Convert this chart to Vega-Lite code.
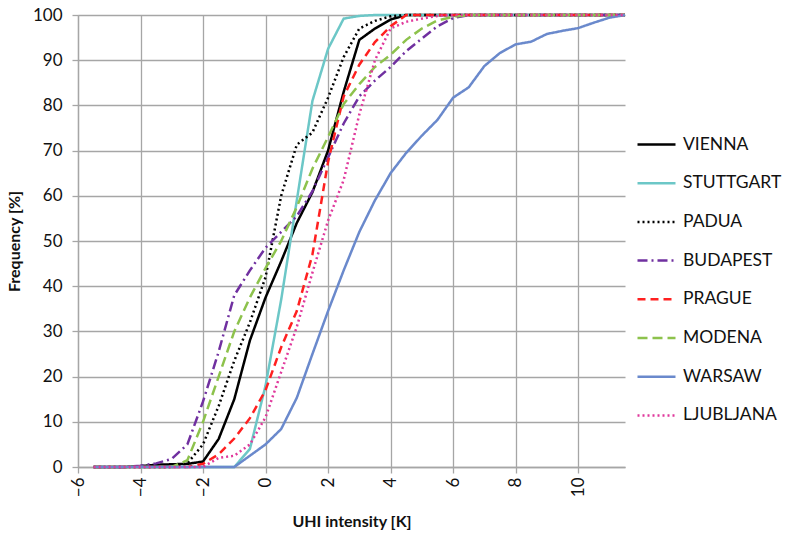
{
  "$schema": "https://vega.github.io/schema/vega-lite/v6.json",
  "autosize": {"type": "none"},
  "padding": {"left": 78, "top": 15, "right": 161, "bottom": 73},
  "width": 547,
  "height": 452,
  "background": "white",
  "config": {
    "view": {"stroke": null},
    "font": "Lato",
    "axis": {
      "labelFont": "Lato", "titleFont": "Lato", "labelFontSize": 17, "titleFontSize": 16,
      "labelColor": "#111", "titleColor": "#111", "titleFontWeight": "bold",
      "gridColor": "#A6A6A6", "gridWidth": 1.3, "gridOpacity": 1,
      "domainColor": "#A6A6A6", "domainWidth": 1.3, "tickColor": "#A6A6A6", "tickWidth": 1.3, "tickSize": 6
    },
    "legend": {"labelFont": "Lato", "labelFontSize": 17.5, "labelColor": "#111"}
  },
  "data": {"values": [
    {"c":"VIENNA","x":-5.5,"y":0},{"c":"VIENNA","x":-4.5,"y":0},{"c":"VIENNA","x":-4,"y":0.2},{"c":"VIENNA","x":-3.5,"y":0.5},{"c":"VIENNA","x":-3,"y":0.6},{"c":"VIENNA","x":-2.5,"y":0.7},{"c":"VIENNA","x":-2,"y":1.2},{"c":"VIENNA","x":-1.5,"y":6.2},{"c":"VIENNA","x":-1,"y":15},{"c":"VIENNA","x":-0.5,"y":28},{"c":"VIENNA","x":0,"y":37.5},{"c":"VIENNA","x":0.5,"y":45.5},{"c":"VIENNA","x":1,"y":54},{"c":"VIENNA","x":1.5,"y":60.8},{"c":"VIENNA","x":2,"y":70},{"c":"VIENNA","x":2.5,"y":83},{"c":"VIENNA","x":3,"y":94.5},{"c":"VIENNA","x":3.5,"y":97},{"c":"VIENNA","x":4,"y":99},{"c":"VIENNA","x":4.5,"y":100},{"c":"VIENNA","x":11.5,"y":100},
    {"c":"STUTTGART","x":-5.5,"y":0},{"c":"STUTTGART","x":-1,"y":0},{"c":"STUTTGART","x":-0.5,"y":4},{"c":"STUTTGART","x":0,"y":18},{"c":"STUTTGART","x":0.5,"y":37},{"c":"STUTTGART","x":1,"y":59},{"c":"STUTTGART","x":1.5,"y":81},{"c":"STUTTGART","x":2,"y":92.5},{"c":"STUTTGART","x":2.5,"y":99.2},{"c":"STUTTGART","x":3,"y":99.8},{"c":"STUTTGART","x":3.5,"y":100},{"c":"STUTTGART","x":11.5,"y":100},
    {"c":"PADUA","x":-5.5,"y":0},{"c":"PADUA","x":-3,"y":0},{"c":"PADUA","x":-2.5,"y":0.8},{"c":"PADUA","x":-2,"y":5},{"c":"PADUA","x":-1.5,"y":13.5},{"c":"PADUA","x":-1,"y":23.5},{"c":"PADUA","x":-0.5,"y":32},{"c":"PADUA","x":0,"y":42},{"c":"PADUA","x":0.5,"y":60},{"c":"PADUA","x":1,"y":71.3},{"c":"PADUA","x":1.5,"y":74},{"c":"PADUA","x":2,"y":81.7},{"c":"PADUA","x":2.5,"y":90.7},{"c":"PADUA","x":3,"y":97},{"c":"PADUA","x":3.5,"y":98.7},{"c":"PADUA","x":4,"y":99.7},{"c":"PADUA","x":4.5,"y":100},{"c":"PADUA","x":11.5,"y":100},
    {"c":"BUDAPEST","x":-5.5,"y":0},{"c":"BUDAPEST","x":-4.5,"y":0},{"c":"BUDAPEST","x":-4,"y":0.3},{"c":"BUDAPEST","x":-3.5,"y":0.8},{"c":"BUDAPEST","x":-3,"y":1.8},{"c":"BUDAPEST","x":-2.5,"y":5},{"c":"BUDAPEST","x":-2,"y":14.5},{"c":"BUDAPEST","x":-1.5,"y":25.5},{"c":"BUDAPEST","x":-1,"y":38},{"c":"BUDAPEST","x":-0.5,"y":43.5},{"c":"BUDAPEST","x":0,"y":48.5},{"c":"BUDAPEST","x":0.5,"y":52},{"c":"BUDAPEST","x":1,"y":55.5},{"c":"BUDAPEST","x":1.5,"y":61},{"c":"BUDAPEST","x":2,"y":68.5},{"c":"BUDAPEST","x":2.5,"y":76},{"c":"BUDAPEST","x":3,"y":82},{"c":"BUDAPEST","x":3.5,"y":85.5},{"c":"BUDAPEST","x":4,"y":88.5},{"c":"BUDAPEST","x":4.5,"y":92},{"c":"BUDAPEST","x":5,"y":94.8},{"c":"BUDAPEST","x":5.5,"y":97.5},{"c":"BUDAPEST","x":6,"y":99.3},{"c":"BUDAPEST","x":6.5,"y":100},{"c":"BUDAPEST","x":11.5,"y":100},
    {"c":"PRAGUE","x":-5.5,"y":0},{"c":"PRAGUE","x":-2.5,"y":0},{"c":"PRAGUE","x":-2,"y":0.7},{"c":"PRAGUE","x":-1.5,"y":2.8},{"c":"PRAGUE","x":-1,"y":6.3},{"c":"PRAGUE","x":-0.5,"y":10.8},{"c":"PRAGUE","x":0,"y":17},{"c":"PRAGUE","x":0.5,"y":26.5},{"c":"PRAGUE","x":1,"y":34.5},{"c":"PRAGUE","x":1.5,"y":47},{"c":"PRAGUE","x":2,"y":67.5},{"c":"PRAGUE","x":2.5,"y":82},{"c":"PRAGUE","x":3,"y":89},{"c":"PRAGUE","x":3.5,"y":94},{"c":"PRAGUE","x":4,"y":97.5},{"c":"PRAGUE","x":4.5,"y":100},{"c":"PRAGUE","x":11.5,"y":100},
    {"c":"MODENA","x":-5.5,"y":0},{"c":"MODENA","x":-3,"y":0},{"c":"MODENA","x":-2.5,"y":1.5},{"c":"MODENA","x":-2,"y":10},{"c":"MODENA","x":-1.5,"y":20},{"c":"MODENA","x":-1,"y":30},{"c":"MODENA","x":-0.5,"y":37.5},{"c":"MODENA","x":0,"y":44},{"c":"MODENA","x":0.5,"y":50},{"c":"MODENA","x":1,"y":57.5},{"c":"MODENA","x":1.5,"y":66},{"c":"MODENA","x":2,"y":73},{"c":"MODENA","x":2.5,"y":80.3},{"c":"MODENA","x":3,"y":84.7},{"c":"MODENA","x":3.5,"y":88.5},{"c":"MODENA","x":4,"y":91.2},{"c":"MODENA","x":4.5,"y":94.5},{"c":"MODENA","x":5,"y":97},{"c":"MODENA","x":5.5,"y":98.8},{"c":"MODENA","x":6,"y":99.6},{"c":"MODENA","x":6.5,"y":100},{"c":"MODENA","x":11.5,"y":100},
    {"c":"WARSAW","x":-5.5,"y":0},{"c":"WARSAW","x":-1,"y":0},{"c":"WARSAW","x":-0.5,"y":2.5},{"c":"WARSAW","x":0,"y":5},{"c":"WARSAW","x":0.5,"y":8.4},{"c":"WARSAW","x":1,"y":15.3},{"c":"WARSAW","x":1.5,"y":25},{"c":"WARSAW","x":2,"y":34.5},{"c":"WARSAW","x":2.5,"y":43.5},{"c":"WARSAW","x":3,"y":52},{"c":"WARSAW","x":3.5,"y":59},{"c":"WARSAW","x":4,"y":65},{"c":"WARSAW","x":4.5,"y":69.5},{"c":"WARSAW","x":5,"y":73.3},{"c":"WARSAW","x":5.5,"y":76.8},{"c":"WARSAW","x":6,"y":81.7},{"c":"WARSAW","x":6.5,"y":84},{"c":"WARSAW","x":7,"y":88.7},{"c":"WARSAW","x":7.5,"y":91.6},{"c":"WARSAW","x":8,"y":93.5},{"c":"WARSAW","x":8.5,"y":94.1},{"c":"WARSAW","x":9,"y":95.8},{"c":"WARSAW","x":9.5,"y":96.5},{"c":"WARSAW","x":10,"y":97.1},{"c":"WARSAW","x":10.5,"y":98.3},{"c":"WARSAW","x":11,"y":99.4},{"c":"WARSAW","x":11.5,"y":100},
    {"c":"LJUBLJANA","x":-5.5,"y":0},{"c":"LJUBLJANA","x":-2,"y":0},{"c":"LJUBLJANA","x":-1.5,"y":2},{"c":"LJUBLJANA","x":-1,"y":2.5},{"c":"LJUBLJANA","x":-0.5,"y":5},{"c":"LJUBLJANA","x":0,"y":11},{"c":"LJUBLJANA","x":0.5,"y":21},{"c":"LJUBLJANA","x":1,"y":31},{"c":"LJUBLJANA","x":1.5,"y":43},{"c":"LJUBLJANA","x":2,"y":54.5},{"c":"LJUBLJANA","x":2.5,"y":63.5},{"c":"LJUBLJANA","x":3,"y":78},{"c":"LJUBLJANA","x":3.5,"y":90},{"c":"LJUBLJANA","x":4,"y":97},{"c":"LJUBLJANA","x":4.5,"y":98.5},{"c":"LJUBLJANA","x":5,"y":99.2},{"c":"LJUBLJANA","x":5.5,"y":99.8},{"c":"LJUBLJANA","x":6,"y":100},{"c":"LJUBLJANA","x":11.5,"y":100}
  ]},
  "mark": {"type": "line", "clip": false},
  "encoding": {
    "x": {"field": "x", "type": "quantitative",
      "scale": {"domain": [-6, 11.5], "nice": false, "zero": false},
      "axis": {"values": [-6,-4,-2,0,2,4,6,8,10], "labelAngle": 270, "labelPadding": 4, "title": "UHI intensity [K]", "titlePadding": 17}},
    "y": {"field": "y", "type": "quantitative",
      "scale": {"domain": [0, 100], "nice": false},
      "axis": {"values": [0,10,20,30,40,50,60,70,80,90,100], "labelPadding": 10, "title": "Frequency [%]", "titlePadding": 10}},
    "color": {"field": "c", "type": "nominal",
      "scale": {"domain": ["VIENNA","STUTTGART","PADUA","BUDAPEST","PRAGUE","MODENA","WARSAW","LJUBLJANA"],
        "range": ["#000000","#6CC7C7","#000000","#7030A0","#FF2020","#8DC24C","#6A89CC","#E0399C"]},
      "legend": {"title": null, "orient": "none", "legendX": 558, "legendY": 109, "padding": 0,
        "symbolType": "stroke", "symbolSize": 1444, "rowPadding": 9.7, "labelOffset": 6}},
    "strokeDash": {"field": "c", "type": "nominal",
      "scale": {"domain": ["VIENNA","STUTTGART","PADUA","BUDAPEST","PRAGUE","MODENA","WARSAW","LJUBLJANA"],
        "range": [[1,0],[1,0],[2,3],[10,4,2,4],[8,5],[10,5],[1,0],[2,3]]}},
    "strokeWidth": {"field": "c", "type": "nominal",
      "scale": {"domain": ["VIENNA","STUTTGART","PADUA","BUDAPEST","PRAGUE","MODENA","WARSAW","LJUBLJANA"],
        "range": [2.5,2.5,2,3,3,3.5,2.5,2]}}
  }
}
